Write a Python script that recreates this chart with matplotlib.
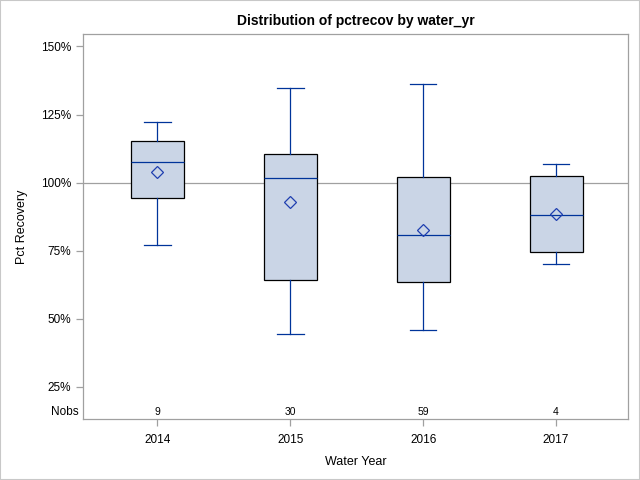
import matplotlib
matplotlib.use("Agg")
import matplotlib.pyplot as plt
from matplotlib.patches import Rectangle

plt.rcParams['font.family'] = ['Liberation Sans', 'DejaVu Sans']

years = ["2014", "2015", "2016", "2017"]
nobs = [9, 30, 59, 4]
whislo = [77.2, 44.4, 45.8, 70.2]
q1 = [94.5, 64.2, 63.5, 74.5]
med = [107.4, 101.7, 80.8, 88.1]
mean = [104.0, 92.9, 82.7, 88.5]
q3 = [115.4, 110.5, 102.1, 102.5]
whishi = [122.4, 134.9, 136.3, 106.9]
yticks = [25, 50, 75, 100, 125, 150]

fig = plt.figure(figsize=(6.4, 4.8), dpi=100)
fig.patches.append(Rectangle((0, 0), 1, 1, transform=fig.transFigure,
                             fill=False, edgecolor='#C8C8C8', linewidth=1.5))
ax = fig.add_axes([0.1297, 0.127, 0.8513, 0.803])

stats = []
for i in range(len(years)):
    stats.append(dict(med=med[i], q1=q1[i], q3=q3[i], whislo=whislo[i],
                      whishi=whishi[i], mean=mean[i], fliers=[], label=years[i]))

navy = '#00349A'
ax.axhline(100, color='#A0A0A0', linewidth=0.9, zorder=1)
ax.bxp(stats, positions=range(len(years)), widths=0.4, patch_artist=True,
       showmeans=True,
       boxprops=dict(facecolor='#CAD5E6', edgecolor='black', linewidth=0.9),
       medianprops=dict(color=navy, linewidth=0.9),
       whiskerprops=dict(color=navy, linewidth=0.9),
       capprops=dict(color=navy, linewidth=0.9),
       meanprops=dict(marker='D', markerfacecolor='none', markeredgecolor='#1F3FB0',
                      markersize=6.5, markeredgewidth=0.9),
       zorder=2)

ax.set_xlim(-0.56, 3.54)
ax.set_ylim(13.2, 154.7)
ax.set_yticks(yticks)
ax.set_yticklabels([f"{v}%" for v in yticks])
ax.set_xticks(range(len(years)))
ax.set_xticklabels(years)

for i, n in enumerate(nobs):
    ax.text(i, 15.9, str(n), ha='center', va='center', fontsize=7.5, color='black')
ax.text(-0.008, 15.9, "Nobs", transform=ax.get_yaxis_transform(), ha='right',
        va='center', fontsize=8.5)

for sp in ax.spines.values():
    sp.set_color('#A0A0A0')
    sp.set_linewidth(0.9)
ax.tick_params(axis='both', colors='#A0A0A0', labelcolor='black', labelsize=8.5,
               length=5, width=0.9)
ax.tick_params(axis='x', pad=6)

ax.set_title("Distribution of pctrecov by water_yr", fontsize=10, fontweight='bold', pad=6)
ax.set_ylabel("Pct Recovery", fontsize=9, labelpad=9)
ax.set_xlabel("Water Year", fontsize=9, labelpad=7)

fig.savefig("out.png", dpi=100)
